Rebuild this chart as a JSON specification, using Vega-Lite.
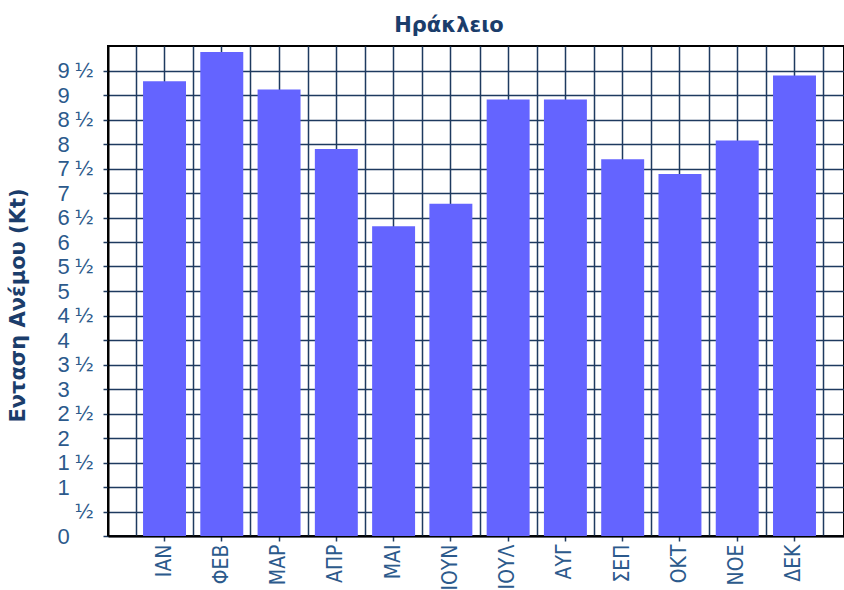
{
  "$schema": "https://vega.github.io/schema/vega-lite/v6.json",
  "width": 736,
  "height": 490,
  "autosize": {"type": "none"},
  "padding": {"left": 108, "top": 46, "right": 0, "bottom": 54},
  "background": "white",
  "title": {"text": "Ηράκλειο", "font": "DejaVu Sans", "fontSize": 21, "fontWeight": "bold", "color": "#1b3d6b", "anchor": "middle", "dx": -27, "offset": 10},
  "config": {"view": {"stroke": "#000000", "strokeWidth": 2}},
  "data": {"values": [
    {"month": "ΙΑΝ", "wind": 9.28},
    {"month": "ΦΕΒ", "wind": 9.88},
    {"month": "ΜΑΡ", "wind": 9.11},
    {"month": "ΑΠΡ", "wind": 7.90},
    {"month": "ΜΑΙ", "wind": 6.32},
    {"month": "ΙΟΥΝ", "wind": 6.78},
    {"month": "ΙΟΥΛ", "wind": 8.91},
    {"month": "ΑΥΓ", "wind": 8.91},
    {"month": "ΣΕΠ", "wind": 7.69},
    {"month": "ΟΚΤ", "wind": 7.39},
    {"month": "ΝΟΕ", "wind": 8.07},
    {"month": "ΔΕΚ", "wind": 9.40}
  ]},
  "resolve": {"axis": {"x": "independent", "y": "independent"}},
  "layer": [
    {
      "mark": {"type": "bar", "color": "#6464ff", "width": {"band": 0.75}},
      "encoding": {
        "x": {"field": "month", "type": "nominal", "sort": null,
          "scale": {"type": "band", "paddingInner": 0, "paddingOuter": 0.4256, "align": 0.572},
          "axis": {"orient": "bottom", "title": null, "bandPosition": 0.5, "grid": true, "gridColor": "#1e3a5f", "gridWidth": 1.5,
            "domain": true, "domainColor": "#000000", "domainWidth": 2, "ticks": true, "tickColor": "#1e3a5f", "tickSize": 5, "tickWidth": 1.5,
            "labelAngle": 270, "labelFont": "Liberation Sans Narrow, DejaVu Sans Condensed, Liberation Sans", "labelFontSize": 21, "labelColor": "#2c5a8c", "labelPadding": 3}},
        "y": {"field": "wind", "type": "quantitative",
          "scale": {"domain": [0, 10], "nice": false},
          "axis": {"orient": "left", "values": [0, 0.5, 1, 1.5, 2, 2.5, 3, 3.5, 4, 4.5, 5, 5.5, 6, 6.5, 7, 7.5, 8, 8.5, 9, 9.5],
            "labelExpr": "datum.value > 0 && datum.value < 1 ? '' : format(floor(datum.value), 'd')",
            "grid": true, "gridColor": "#1e3a5f", "gridWidth": 1.5,
            "domain": true, "domainColor": "#000000", "domainWidth": 2, "ticks": true, "tickColor": "#1e3a5f", "tickSize": 5, "tickWidth": 1.5,
            "labelAlign": "left", "labelBaseline": "middle", "labelPadding": 46, "labelFont": "Liberation Sans", "labelFontSize": 22, "labelColor": "#2c5a8c",
            "title": "Ενταση Ανέμου (Kt)", "titleFont": "DejaVu Sans", "titleFontSize": 21, "titleFontWeight": "bold", "titleColor": "#1b3d6b",
            "titleAngle": 270, "titleX": -90, "titleY": 259, "titleAlign": "center", "titleBaseline": "middle"}}
      }
    },
    {
      "mark": {"type": "bar", "color": "#6464ff", "opacity": 0, "width": {"band": 0.75}},
      "encoding": {
        "x": {"field": "month", "type": "nominal", "sort": null,
          "axis": {"orient": "bottom", "title": null, "tickBand": "extent", "grid": true, "gridColor": "#1e3a5f", "gridWidth": 1.5,
            "domain": false, "ticks": false, "labels": false}},
        "y": {"field": "wind", "type": "quantitative",
          "axis": {"orient": "left", "values": [0.5, 1.5, 2.5, 3.5, 4.5, 5.5, 6.5, 7.5, 8.5, 9.5],
            "labelExpr": "'½'", "grid": false, "domain": false, "ticks": false, "tickSize": 0,
            "labelAlign": "left", "labelBaseline": "middle", "labelPadding": 34, "labelFont": "DejaVu Sans", "labelFontSize": 20, "labelColor": "#2c5a8c",
            "title": null}}
      }
    }
  ]
}
